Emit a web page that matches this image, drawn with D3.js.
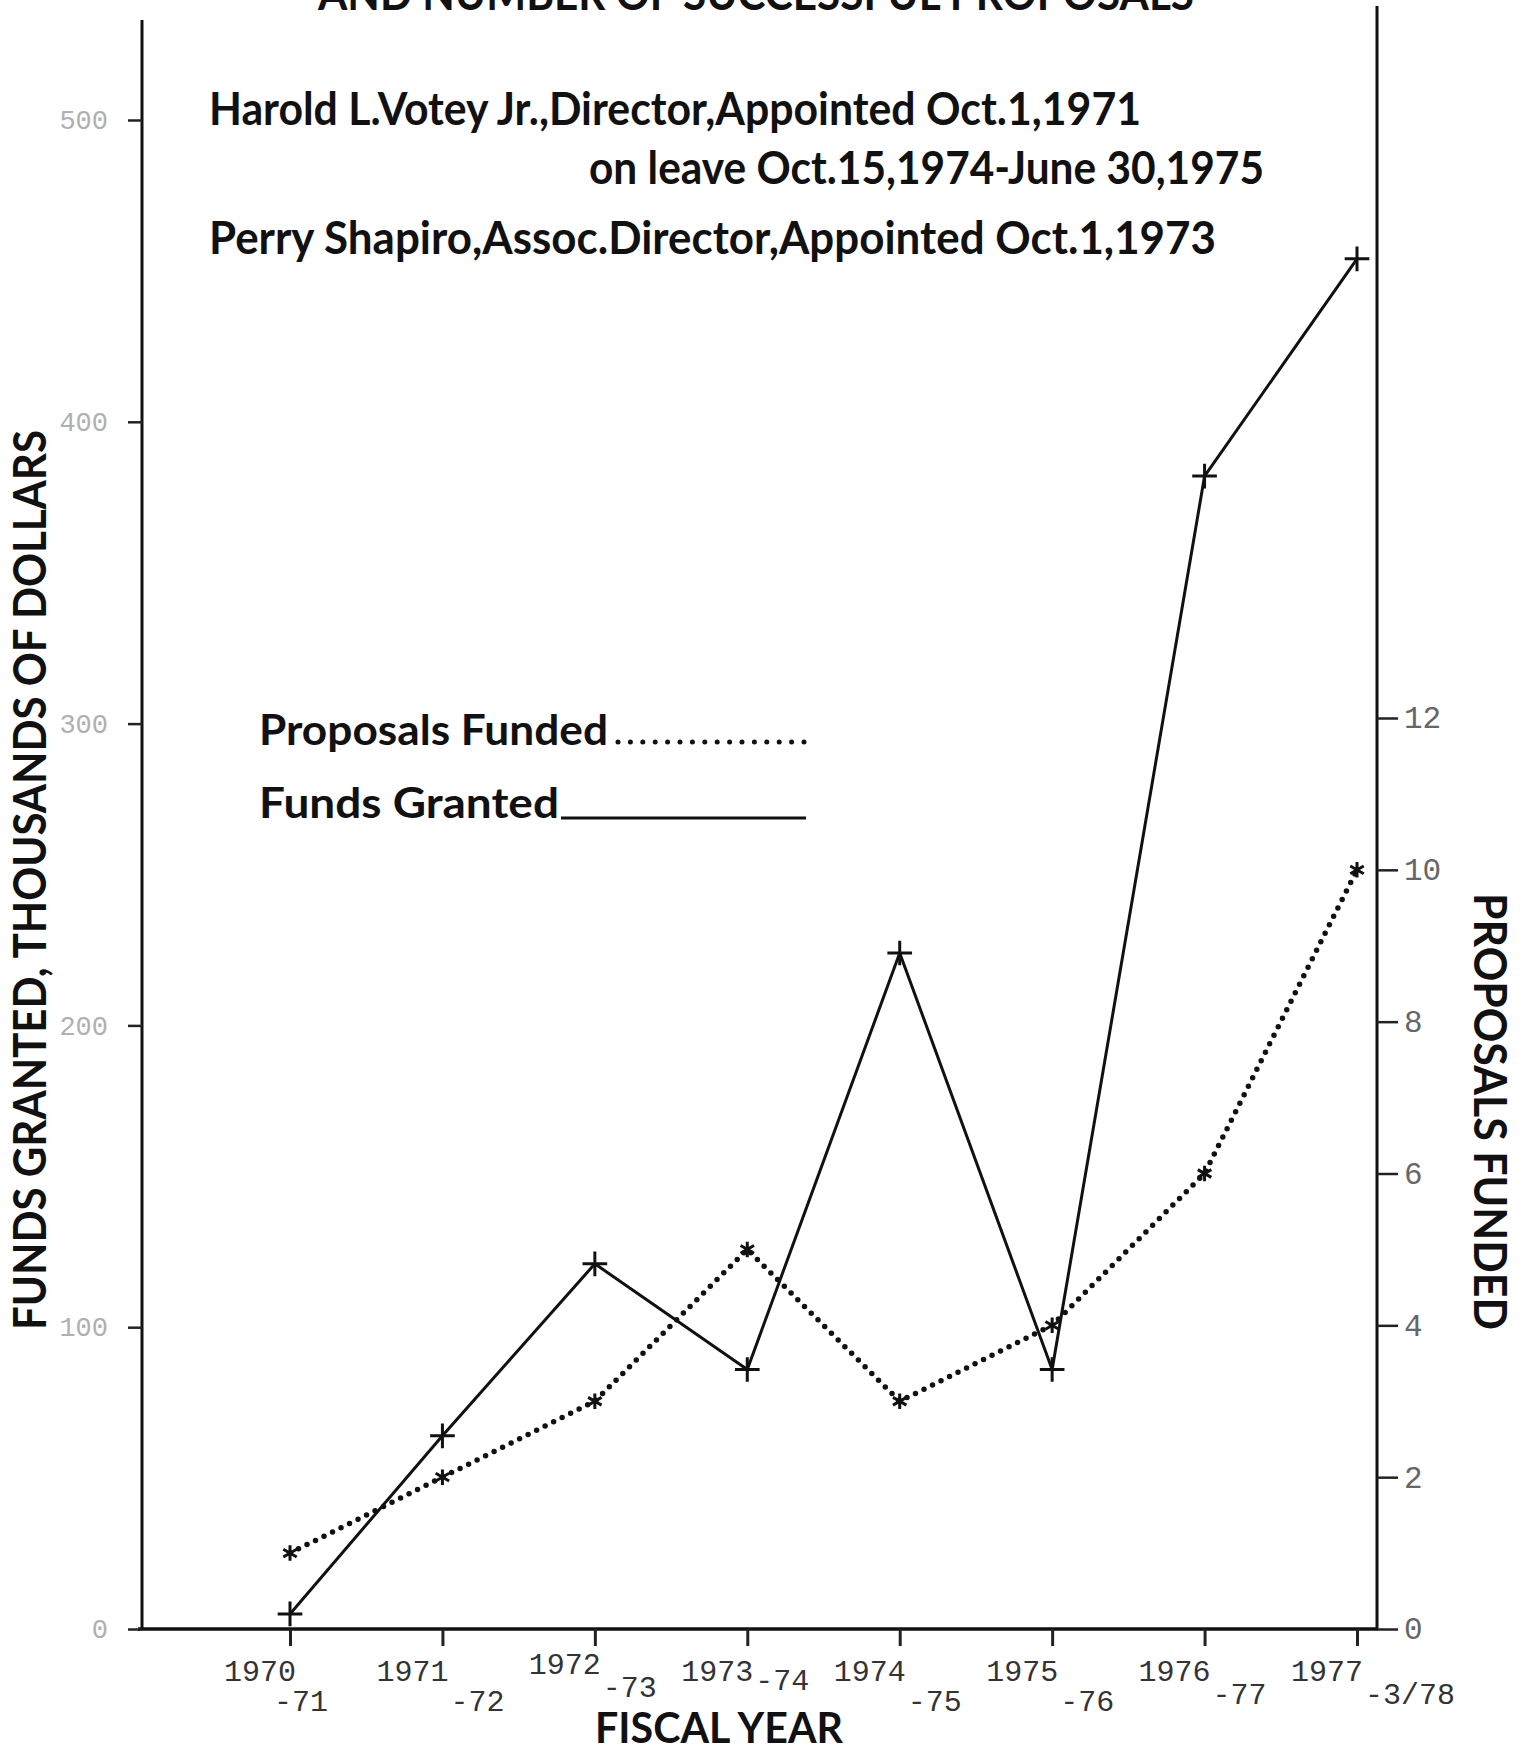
<!DOCTYPE html>
<html>
<head>
<meta charset="utf-8">
<script src="https://cdn.jsdelivr.net/npm/d3@7"></script>
<style>
  body { margin: 0; background: #fff; }
  svg { display: block; }
</style>
</head>
<body>
<svg id="chart"></svg>
<script>
// data
const fiscalYears = ['1970', '1971', '1972', '1973', '1974', '1975', '1976', '1977'];
const yearEnds = ['-71', '-72', '-73', '-74', '-75', '-76', '-77', '-3/78'];
const fundsGranted = [5, 64, 121, 86, 224, 86, 382, 454]; // thousands of dollars
const proposalsFunded = [1, 2, 3, 5, 3, 4, 6, 10];
const fundsTicks = [0, 100, 200, 300, 400, 500];
const proposalTicks = [0, 2, 4, 6, 8, 10, 12];

const width = 1527;
const height = 1749;
const boldFont = 'Lato, "Noto Sans", sans-serif';
const tickFont = '"Liberation Mono", "DejaVu Sans Mono", monospace';

const svg = d3.select('#chart')
  .attr('width', width)
  .attr('height', height);

const x = d3.scalePoint()
  .domain(fiscalYears)
  .range([290, 1357]);

const yFunds = d3.scaleLinear()
  .domain([0, 500])
  .range([1629, 120]);

const yProps = d3.scaleLinear()
  .domain([0, 12])
  .range([1629, 718]);

const rows = fiscalYears.map((yr, i) => ({
  year: yr,
  funds: fundsGranted[i],
  props: proposalsFunded[i]
}));

// frame lines
svg.append('line')
  .attr('x1', 142).attr('x2', 142)
  .attr('y1', 20).attr('y2', yFunds(0))
  .attr('stroke', '#111').attr('stroke-width', 3);

svg.append('line')
  .attr('x1', 1377).attr('x2', 1377)
  .attr('y1', 6).attr('y2', yFunds(0))
  .attr('stroke', '#111').attr('stroke-width', 3);

svg.append('line')
  .attr('x1', 138).attr('x2', 1378)
  .attr('y1', yFunds(0)).attr('y2', yFunds(0))
  .attr('stroke', '#111').attr('stroke-width', 3.5);

// left axis
const leftAxis = svg.append('g')
  .attr('transform', 'translate(142,0)')
  .call(d3.axisLeft(yFunds).tickValues(fundsTicks).tickSize(14).tickPadding(20));
leftAxis.select('.domain').remove();
leftAxis.selectAll('.tick line').attr('stroke', '#222').attr('stroke-width', 2.5);
leftAxis.selectAll('.tick text')
  .attr('font-family', tickFont)
  .attr('font-size', 27)
  .attr('fill', '#b0b0b0');

// right axis
const rightAxis = svg.append('g')
  .attr('transform', 'translate(1377,0)')
  .call(d3.axisRight(yProps).tickValues(proposalTicks).tickSize(21).tickPadding(6));
rightAxis.select('.domain').remove();
rightAxis.selectAll('.tick line').attr('stroke', '#222').attr('stroke-width', 2.5);
rightAxis.selectAll('.tick text')
  .attr('font-family', tickFont)
  .attr('font-size', 31)
  .attr('fill', '#666');

// bottom axis
const bottomAxis = svg.append('g')
  .attr('transform', `translate(0,${yFunds(0)})`)
  .call(d3.axisBottom(x).tickSize(17).tickFormat(''));
bottomAxis.select('.domain').remove();
bottomAxis.selectAll('.tick line').attr('stroke', '#222').attr('stroke-width', 3);

const xLabels = svg.append('g')
  .attr('font-family', tickFont)
  .attr('fill', '#333');

xLabels.selectAll('text.yr')
  .data(fiscalYears)
  .join('text')
  .attr('class', 'yr')
  .attr('x', d => x(d) + 6)
  .attr('y', (d, i) => (i === 2 ? 1674 : 1681))
  .attr('text-anchor', 'end')
  .attr('font-size', 30)
  .text(d => d);

// the -73 and -74 sit higher, clear of the axis title
const endY = [1711, 1711, 1697, 1690, 1711, 1711, 1704, 1704];
xLabels.selectAll('text.end')
  .data(yearEnds)
  .join('text')
  .attr('class', 'end')
  .attr('x', (d, i) => x(fiscalYears[i]) + (i === 0 ? -16 : 8))
  .attr('y', (d, i) => endY[i])
  .attr('font-size', 30)
  .text(d => d);

// series
const fundsLine = d3.line()
  .x(d => x(d.year))
  .y(d => yFunds(d.funds));

const propsLine = d3.line()
  .x(d => x(d.year))
  .y(d => yProps(d.props));

svg.append('path')
  .datum(rows)
  .attr('d', fundsLine)
  .attr('fill', 'none')
  .attr('stroke', '#111')
  .attr('stroke-width', 3)
  .attr('stroke-linejoin', 'round');

svg.append('path')
  .datum(rows)
  .attr('d', propsLine)
  .attr('fill', 'none')
  .attr('stroke', '#111')
  .attr('stroke-width', 5.5)
  .attr('stroke-linecap', 'round')
  .attr('stroke-dasharray', '0 9.5');

const plus = d3.symbol().type(d3.symbolPlus || d3.symbolCross).size(200);
const star = d3.symbol().type(d3.symbolAsterisk || d3.symbolStar).size(170);

svg.selectAll('path.fmark')
  .data(rows)
  .join('path')
  .attr('class', 'fmark')
  .attr('d', plus)
  .attr('transform', d => `translate(${x(d.year)},${yFunds(d.funds)})`)
  .attr('fill', 'none')
  .attr('stroke', '#111')
  .attr('stroke-width', 3);

svg.selectAll('path.pmark')
  .data(rows)
  .join('path')
  .attr('class', 'pmark')
  .attr('d', star)
  .attr('transform', d => `translate(${x(d.year)},${yProps(d.props)})`)
  .attr('fill', 'none')
  .attr('stroke', '#111')
  .attr('stroke-width', 3);

// text
const txt = svg.append('g')
  .attr('font-family', boldFont)
  .attr('font-weight', 700)
  .attr('fill', '#111');

txt.append('text')
  .attr('x', 318).attr('y', 10)
  .attr('font-size', 46)
  .attr('textLength', 876).attr('lengthAdjust', 'spacingAndGlyphs')
  .text('AND NUMBER OF SUCCESSFUL PROPOSALS');

txt.append('text')
  .attr('x', 209).attr('y', 125)
  .attr('font-size', 46)
  .attr('textLength', 932).attr('lengthAdjust', 'spacingAndGlyphs')
  .text('Harold L.Votey Jr.,Director,Appointed Oct.1,1971');

txt.append('text')
  .attr('x', 589).attr('y', 184)
  .attr('font-size', 46)
  .attr('textLength', 675).attr('lengthAdjust', 'spacingAndGlyphs')
  .text('on leave Oct.15,1974-June 30,1975');

txt.append('text')
  .attr('x', 209).attr('y', 254)
  .attr('font-size', 46)
  .attr('textLength', 1007).attr('lengthAdjust', 'spacingAndGlyphs')
  .text('Perry Shapiro,Assoc.Director,Appointed Oct.1,1973');

// legend
txt.append('text')
  .attr('x', 259).attr('y', 745)
  .attr('font-size', 42)
  .attr('textLength', 349).attr('lengthAdjust', 'spacingAndGlyphs')
  .text('Proposals Funded');

svg.append('line')
  .attr('x1', 618).attr('x2', 804)
  .attr('y1', 742).attr('y2', 742)
  .attr('stroke', '#111')
  .attr('stroke-width', 5)
  .attr('stroke-linecap', 'round')
  .attr('stroke-dasharray', '0 12.4');

txt.append('text')
  .attr('x', 259).attr('y', 818)
  .attr('font-size', 42)
  .attr('textLength', 300).attr('lengthAdjust', 'spacingAndGlyphs')
  .text('Funds Granted');

svg.append('line')
  .attr('x1', 561).attr('x2', 806)
  .attr('y1', 818).attr('y2', 818)
  .attr('stroke', '#111')
  .attr('stroke-width', 3);

// axis titles
txt.append('text')
  .attr('transform', 'translate(46,1330) rotate(-90)')
  .attr('font-size', 46)
  .attr('textLength', 900).attr('lengthAdjust', 'spacingAndGlyphs')
  .text('FUNDS GRANTED, THOUSANDS OF DOLLARS');

txt.append('text')
  .attr('transform', 'translate(1474,893) rotate(90)')
  .attr('font-size', 46)
  .attr('textLength', 437).attr('lengthAdjust', 'spacingAndGlyphs')
  .text('PROPOSALS FUNDED');

txt.append('text')
  .attr('x', 595).attr('y', 1743)
  .attr('font-size', 42)
  .attr('textLength', 248).attr('lengthAdjust', 'spacingAndGlyphs')
  .text('FISCAL YEAR');
</script>
</body>
</html>
